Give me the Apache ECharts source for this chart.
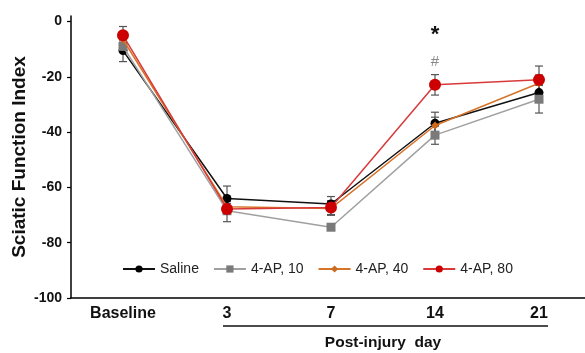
<!DOCTYPE html>
<html><head><meta charset="utf-8">
<script src="https://cdn.jsdelivr.net/npm/echarts@6/dist/echarts.min.js"></script>
<style>html,body{margin:0;padding:0;background:#fff}#c{width:585px;height:353px}</style>
</head><body><div id="c"></div>
<script>
var categories = ['Baseline', '3', '7', '14', '21'];
var yTicks = [-100, -80, -60, -40, -20, 0];
var seriesNames = ['Saline', '4-AP, 10', '4-AP, 40', '4-AP, 80'];
var saline = [-10.5, -64, -66, -36.8, -25.7];
var ap10 = [-9, -68.4, -74.4, -41.1, -28.1];
var ap40 = [-6.5, -67, -67.6, -37.6, -22.3];
var ap80 = [-5, -67.8, -67.3, -22.9, -21.1];
var salineErr = [4, 4.5, 2.7, 4, 3];
var ap10Err = [2, 4, 1, 3.3, 5];
var ap40Err = [2, 2, 2.5, 3, 3];
var ap80Err = [3.2, 2, 2.5, 3.7, 5];
var sigMarks = [{cat: '14', y: -5, text: '*'}, {cat: '14', y: -14.7, text: '#'}];

var FONT = '"Liberation Sans", Arial, sans-serif';
var chart = echarts.init(document.getElementById('c'));

var styles = [
  {line: '#111111', marker: '#000000', symbol: 'circle', size: 9},
  {line: '#a0a0a0', marker: '#7a7a7a', symbol: 'rect', size: 9},
  {line: '#d7742a', marker: '#cc6a1f', symbol: 'diamond', size: 8},
  {line: '#d83a3a', marker: '#cc0000', symbol: 'circle', size: 12}
];
var values = [saline, ap10, ap40, ap80];
var errs = [salineErr, ap10Err, ap40Err, ap80Err];

var series = [];
values.forEach(function (vals, i) {
  var errData = vals.map(function (v, j) { return [j, v - errs[i][j], v + errs[i][j]]; });
  series.push({
    type: 'custom', name: seriesNames[i] + ' err', z: 1, silent: true,
    renderItem: function (params, api) {
      var lo = api.coord([api.value(0), api.value(1)]);
      var hi = api.coord([api.value(0), api.value(2)]);
      var w = 4;
      var st = {stroke: '#555555', lineWidth: 1.2};
      return {type: 'group', children: [
        {type: 'line', shape: {x1: lo[0], y1: lo[1], x2: hi[0], y2: hi[1]}, style: st},
        {type: 'line', shape: {x1: lo[0] - w, y1: lo[1], x2: lo[0] + w, y2: lo[1]}, style: st},
        {type: 'line', shape: {x1: hi[0] - w, y1: hi[1], x2: hi[0] + w, y2: hi[1]}, style: st}
      ]};
    },
    encode: {x: 0, y: [1, 2]},
    data: errData
  });
});
values.forEach(function (vals, i) {
  series.push({
    type: 'line', name: seriesNames[i], data: vals, z: 2 + i,
    symbol: styles[i].symbol, symbolSize: styles[i].size, showSymbol: true,
    lineStyle: {color: styles[i].line, width: 1.5},
    itemStyle: {color: styles[i].marker, borderWidth: 0},
    color: styles[i].marker
  });
});

var option = {
  animation: false,
  grid: {left: 71, right: -6, top: 16, bottom: 55, outerBoundsMode: 'none', containLabel: false},
  legend: {
    data: seriesNames,
    left: 117, top: 257, itemWidth: 32, itemHeight: 9, itemGap: 14,
    textStyle: {fontFamily: FONT, fontSize: 14, color: '#222'}
  },
  xAxis: {
    type: 'category', data: categories, boundaryGap: true,
    axisLine: {onZero: false, lineStyle: {color: '#000', width: 1.5}},
    axisTick: {alignWithLabel: true, inside: true, length: 5, lineStyle: {color: '#000', width: 1.2}},
    axisLabel: {fontFamily: FONT, fontWeight: 'bold', fontSize: 16, color: '#111', margin: 8},
    splitLine: {show: false}
  },
  yAxis: {
    type: 'value', min: -100, max: 2, interval: 20,
    name: 'Sciatic Function Index', nameLocation: 'middle', nameGap: 42, nameRotate: 90,
    nameMoveOverlap: false,
    nameTextStyle: {fontFamily: FONT, fontWeight: 'bold', fontSize: 19, color: '#111'},
    axisLine: {show: true, lineStyle: {color: '#000', width: 1.5}},
    axisTick: {show: true, length: 4, customValues: yTicks, lineStyle: {color: '#000', width: 1.2}},
    axisLabel: {fontFamily: FONT, fontWeight: 'bold', fontSize: 14, color: '#111', margin: 9, customValues: yTicks},
    splitLine: {show: false}
  },
  series: series
};
chart.setOption(option);

var p3 = chart.convertToPixel({xAxisIndex: 0}, '3');
var p21 = chart.convertToPixel({xAxisIndex: 0}, '21');
var graphics = [
  {type: 'line', shape: {x1: p3 - 4, y1: 326, x2: p21 + 9, y2: 326}, style: {stroke: '#111', lineWidth: 1.5}},
  {type: 'text', x: (p3 + p21) / 2, y: 343, style: {text: 'Post-injury  day', fontFamily: FONT, fontWeight: 'bold', fontSize: 15.5, fill: '#111', align: 'center', verticalAlign: 'middle'}}
];
sigMarks.forEach(function (m, k) {
  var pt = chart.convertToPixel({xAxisIndex: 0, yAxisIndex: 0}, [m.cat, m.y]);
  graphics.push({type: 'text', x: pt[0], y: pt[1], style: {
    text: m.text, fontFamily: FONT, fontWeight: k === 0 ? 'bold' : 'normal',
    fontSize: k === 0 ? 22 : 15, fill: k === 0 ? '#111' : '#888', align: 'center', verticalAlign: 'middle'}});
});
chart.setOption({graphic: graphics});
</script>
</body></html>
